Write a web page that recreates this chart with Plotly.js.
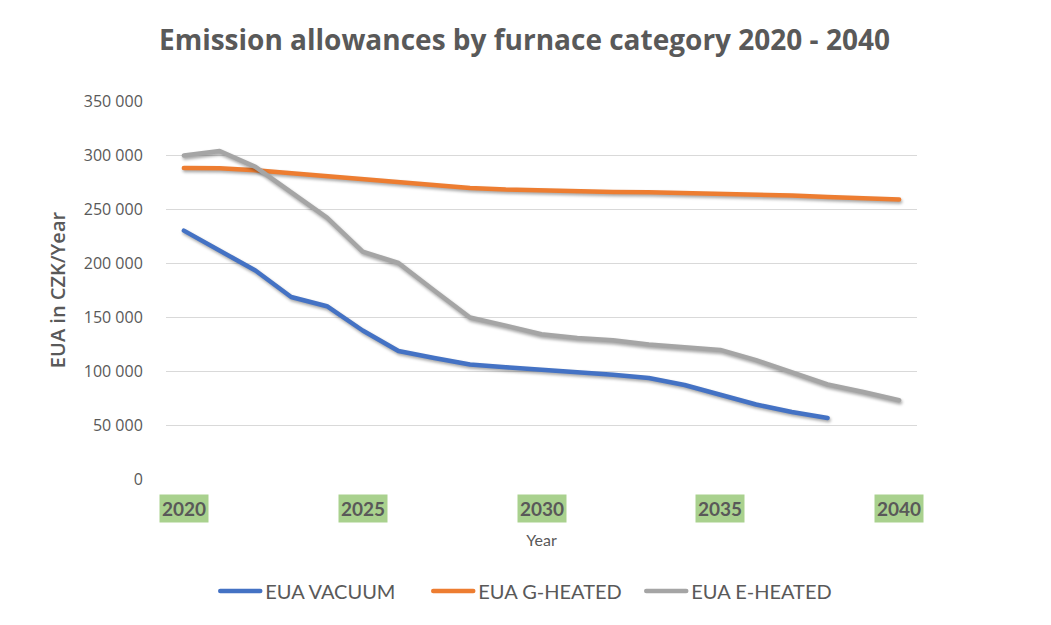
<!DOCTYPE html>
<html>
<head>
<meta charset="utf-8">
<script src="https://cdn.plot.ly/plotly-3.0.1.min.js"></script>
<style>
  html, body { margin: 0; padding: 0; background: #fff; }
  #chart { width: 1051px; height: 625px; }
  .scatterlayer .js-line { stroke-linejoin: round; stroke-linecap: round; filter: drop-shadow(1.5px 2.5px 1.5px rgba(0,0,0,0.35)); }
  .legendlines path { stroke-linecap: round; }
</style>
</head>
<body>
<div id="chart"></div>
<script>
const years = [2020,2021,2022,2023,2024,2025,2026,2027,2028,2029,2030,2031,2032,2033,2034,2035,2036,2037,2038,2039,2040];
const euaVacuum  = [230000,212000,193000,168500,160000,137500,118500,112000,106000,103500,101500,98500,96500,93500,87000,78000,69000,62000,56500,null,null];
const euaGHeated = [288000,287700,285800,283000,280000,277000,275000,272000,269500,268000,267000,266500,265800,265500,265000,264300,263500,262500,261000,260000,258800];
const euaEHeated = [299500,303700,289000,266000,242000,210500,200000,174500,149500,142000,134000,130500,128400,124500,122000,119500,110000,98500,87500,80500,72900];
const seriesNames = ['EUA VACUUM','EUA G-HEATED','EUA E-HEATED'];
const tickYears = [2020,2025,2030,2035,2040];
const tickLabels = ['2020','2025','2030','2035','2040'];

const colors = ['#4472c4','#ed7d31','#a5a5a5'];
const seriesData = [euaVacuum, euaGHeated, euaEHeated];

const traces = seriesData.map((vals, i) => ({
  type: 'scatter',
  mode: 'lines',
  x: years,
  y: vals,
  name: seriesNames[i],
  line: { color: colors[i], width: 4.5 },
  connectgaps: false,
  hoverinfo: 'x+y+name'
}));

const tickAnnotations = tickYears.map((yr, i) => ({
  x: yr, xref: 'x',
  y: -0.077, yref: 'paper',
  yanchor: 'middle', xanchor: 'center',
  text: tickLabels[i],
  showarrow: false,
  bgcolor: '#a9d18e',
  borderpad: 2,
  font: { family: 'Lato, sans-serif', size: 19, color: '#595959', weight: 'bold' }
}));

const layout = {
  width: 1051, height: 625,
  margin: { l: 166, r: 134, t: 101, b: 146 },
  paper_bgcolor: '#ffffff',
  plot_bgcolor: '#ffffff',
  separators: '. ',
  font: { family: 'Lato, sans-serif', color: '#595959' },
  title: {
    text: '<b>Emission allowances by furnace category 2020 - 2040</b>',
    x: 0.499, xref: 'container', xanchor: 'center',
    y: 0.936, yref: 'container', yanchor: 'middle',
    font: { family: '"Open Sans", sans-serif', size: 28, color: '#595959' }
  },
  xaxis: {
    range: [2019.5, 2040.5],
    showgrid: false, zeroline: false, showline: false,
    showticklabels: false, ticks: '',
    title: { text: 'Year', standoff: 55, font: { family: 'Lato, sans-serif', size: 16, color: '#595959' } }
  },
  yaxis: {
    range: [0, 350000],
    dtick: 50000, tick0: 0,
    tickformat: ',d',
    showgrid: true, gridcolor: '#d9d9d9', gridwidth: 1.3,
    zeroline: false, showline: false,
    ticks: 'outside', ticklen: 19, tickcolor: 'rgba(0,0,0,0)',
    tickfont: { family: '"Open Sans", sans-serif', size: 16, color: '#595959' },
    title: { text: 'EUA in CZK/Year', standoff: 12, font: { family: '"Open Sans", sans-serif', size: 20, color: '#595959', weight: 600 } }
  },
  legend: {
    orientation: 'h',
    x: 0.491, xanchor: 'center',
    y: -0.296, yanchor: 'middle',
    font: { family: 'Lato, sans-serif', size: 20, color: '#595959' },
    itemwidth: 40,
    entrywidth: 158,
    entrywidthmode: 'pixels',
    traceorder: 'normal'
  },
  annotations: tickAnnotations,
  showlegend: true
};

Plotly.newPlot('chart', traces, layout, { displayModeBar: false, staticPlot: false });
</script>
</body>
</html>
